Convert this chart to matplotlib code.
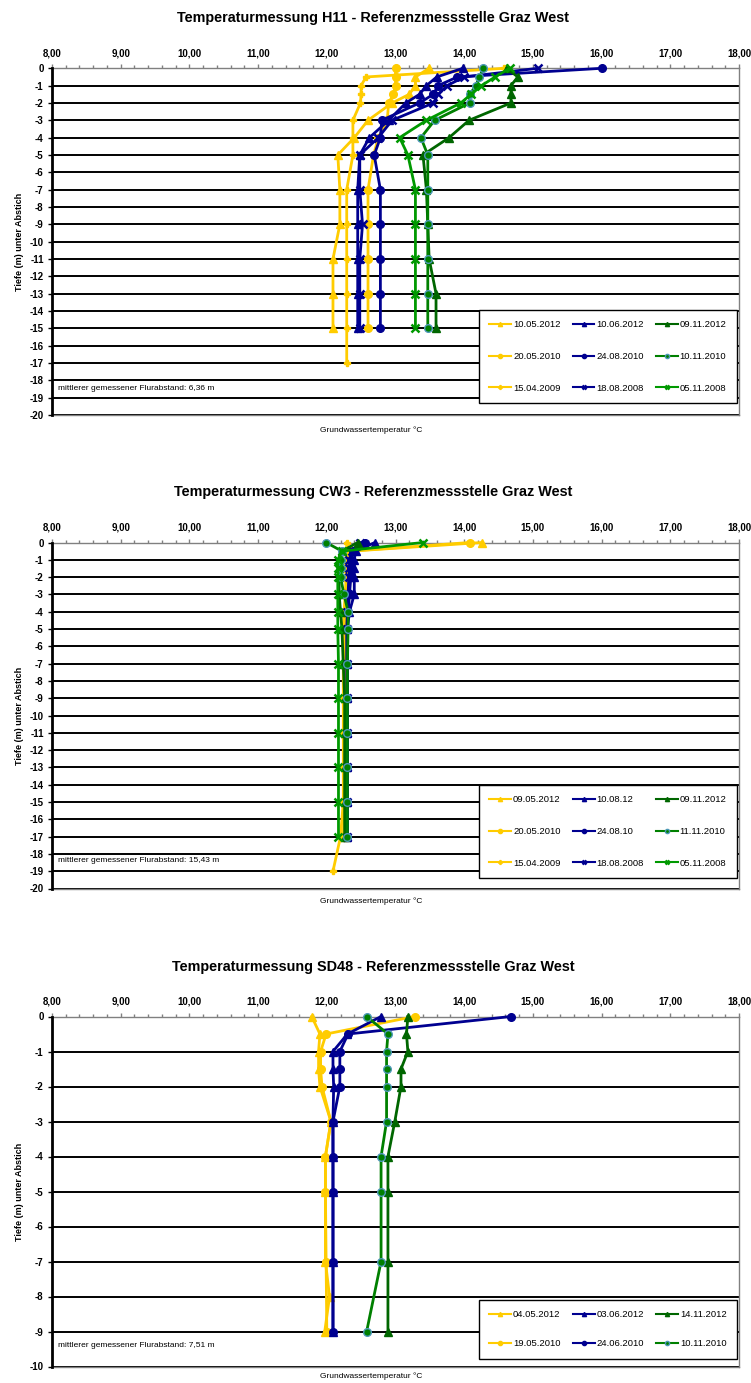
import matplotlib
matplotlib.use("Agg")
import matplotlib.pyplot as plt
from matplotlib.ticker import MultipleLocator, FuncFormatter

plt.rcParams["font.family"] = ["Liberation Sans", "DejaVu Sans"]
plt.rcParams["axes.unicode_minus"] = False

# ---------------- H11 ----------------
h11_depth = [0, -0.5, -1, -1.5, -2, -3, -4, -5, -7, -9, -11, -13, -15]
h11_depth_2009 = [0, -0.5, -1, -1.5, -2, -3, -4, -5, -7, -9, -11, -13, -15, -17]
h11_10052012 = [13.49, 13.29, 13.29, 13.20, 12.95, 12.60, 12.40, 12.16, 12.19, 12.19, 12.09, 12.09, 12.09]
h11_20052010 = [13.00, 13.00, 13.00, 12.97, 12.90, 12.88, 12.75, 12.68, 12.60, 12.60, 12.60, 12.60, 12.60]
h11_15042009 = [14.58, 12.57, 12.50, 12.50, 12.49, 12.38, 12.38, 12.38, 12.29, 12.29, 12.29, 12.29, 12.29, 12.29]
h11_10062012 = [13.98, 13.60, 13.45, 13.35, 13.15, 12.90, 12.62, 12.48, 12.45, 12.45, 12.45, 12.45, 12.45]
h11_24082010 = [16.00, 13.90, 13.62, 13.55, 13.35, 12.80, 12.78, 12.69, 12.78, 12.78, 12.78, 12.78, 12.78]
h11_18082008 = [15.07, 14.00, 13.75, 13.62, 13.55, 12.95, 12.75, 12.48, 12.48, 12.52, 12.48, 12.48, 12.48]
h11_09112012 = [14.62, 14.78, 14.68, 14.68, 14.68, 14.07, 13.78, 13.40, 13.45, 13.47, 13.49, 13.59, 13.59]
h11_10112010 = [14.28, 14.22, 14.17, 14.08, 14.08, 13.57, 13.37, 13.47, 13.47, 13.47, 13.47, 13.47, 13.47]
h11_05112008 = [14.66, 14.45, 14.25, 14.10, 13.95, 13.45, 13.06, 13.18, 13.29, 13.29, 13.29, 13.29, 13.29]

# ---------------- CW3 ----------------
cw3_depth = [0, -0.5, -1, -1.5, -2, -3, -4, -5, -7, -9, -11, -13, -15, -17]
cw3_depth_2009 = [0, -0.5, -1, -1.5, -2, -3, -4, -5, -7, -9, -11, -13, -15, -17, -19]
cw3_09052012 = [14.26, 12.35, 12.30, 12.30, 12.30, 12.29, 12.27, 12.26, 12.26, 12.26, 12.26, 12.26, 12.26, 12.24]
cw3_20052010 = [14.08, 12.32, 12.29, 12.29, 12.29, 12.28, 12.27, 12.27, 12.27, 12.27, 12.27, 12.27, 12.27, 12.27]
cw3_15042009 = [12.29, 12.29, 12.28, 12.28, 12.28, 12.27, 12.25, 12.24, 12.24, 12.24, 12.24, 12.24, 12.24, 12.20, 12.09]
cw3_100812 = [12.70, 12.42, 12.40, 12.40, 12.40, 12.40, 12.33, 12.30, 12.30, 12.30, 12.30, 12.30, 12.30, 12.30]
cw3_240810 = [12.55, 12.38, 12.35, 12.35, 12.35, 12.33, 12.31, 12.30, 12.30, 12.30, 12.30, 12.30, 12.30, 12.30]
cw3_18082008 = [12.48, 12.36, 12.33, 12.33, 12.32, 12.31, 12.30, 12.29, 12.29, 12.29, 12.29, 12.29, 12.29, 12.29]
cw3_09112012 = [12.45, 12.22, 12.18, 12.18, 12.18, 12.18, 12.20, 12.22, 12.24, 12.26, 12.26, 12.26, 12.26, 12.26]
cw3_11112010 = [11.99, 12.22, 12.20, 12.20, 12.20, 12.25, 12.31, 12.31, 12.30, 12.30, 12.30, 12.30, 12.30, 12.30]
cw3_05112008 = [13.40, 12.22, 12.16, 12.16, 12.16, 12.16, 12.16, 12.16, 12.17, 12.17, 12.17, 12.17, 12.17, 12.17]

# ---------------- SD48 ----------------
sd48_depth = [0, -0.5, -1, -1.5, -2, -3, -4, -5, -7, -9]
sd48_depth_2012 = [0, -0.5, -1, -1.5, -2, -3, -4, -5, -7, -8, -9]
sd48_04052012 = [11.78, 11.90, 11.88, 11.88, 11.90, 12.06, 11.98, 11.98, 11.98, 12.04, 11.97]
sd48_19052010 = [13.28, 11.99, 11.91, 11.91, 11.93, 12.06, 11.98, 11.98, 11.99, 12.00]
sd48_03062012 = [12.79, 12.30, 12.09, 12.09, 12.10, 12.09, 12.09, 12.09, 12.09, 12.09]
sd48_24062010 = [14.68, 12.31, 12.19, 12.19, 12.19, 12.09, 12.09, 12.09, 12.09, 12.09]
sd48_14112012 = [13.18, 13.16, 13.18, 13.08, 13.08, 12.99, 12.89, 12.89, 12.89, 12.89]
sd48_10112010 = [12.58, 12.89, 12.87, 12.87, 12.87, 12.87, 12.79, 12.79, 12.79, 12.58]

YELLOW = "#FFCC00"
NAVY = "#000090"
GREEN_DARK = "#006600"
GREEN = "#008000"
GREEN_X = "#009900"

STYLES = {
    "ytri": dict(color=YELLOW, marker="^", ms=5.5),
    "ycirc": dict(color=YELLOW, marker="o", ms=5.5),
    "yplus": dict(color=YELLOW, marker="P", ms=5),
    "btri": dict(color=NAVY, marker="^", ms=5.5),
    "bcirc": dict(color=NAVY, marker="o", ms=5.5),
    "bx": dict(color=NAVY, marker="x", ms=5.5, mew=1.8),
    "gtri": dict(color=GREEN_DARK, marker="^", ms=5.5),
    "gcirc": dict(color=GREEN, marker="o", ms=5.5, mec="#4d98b8", mew=1),
    "gx": dict(color=GREEN_X, marker="x", ms=5.5, mew=1.8),
}

W, H = 751, 1383
fig = plt.figure(figsize=(W / 100, H / 100), dpi=100)
X_LEFT, X_RIGHT = 52, 739


def fx(px):
    return px / W


def fy(py):
    return 1 - py / H


def comma(v, pos):
    return f"{v:.2f}".replace(".", ",")


def draw_panel(top, bottom, ymin, title, title_y, xlabel_y, note, note_y,
               series, legend_top, legend_bottom, ls, bp):
    ax = fig.add_axes([fx(X_LEFT), fy(bottom), (X_RIGHT - X_LEFT) / W, (bottom - top) / H])
    for depth, temp, label, key in series:
        st = dict(STYLES[key])
        ax.plot(temp, depth, lw=2, label=label, clip_on=False, zorder=3, **st)

    ax.set_xlim(8, 18)
    ax.set_ylim(ymin, 0)
    ax.xaxis.tick_top()
    ax.xaxis.set_major_locator(MultipleLocator(1))
    ax.xaxis.set_minor_locator(MultipleLocator(0.2))
    ax.xaxis.set_major_formatter(FuncFormatter(comma))
    ax.yaxis.set_major_locator(MultipleLocator(1))
    ax.yaxis.set_major_formatter(FuncFormatter(lambda v, p: f"{int(round(v))}"))
    ax.tick_params(axis="x", which="major", length=3, width=1, color="#808080",
                   pad=4, labelsize=7)
    ax.tick_params(axis="x", which="minor", length=2, width=1, color="#808080")
    ax.tick_params(axis="y", length=3, width=1, pad=3, labelsize=7)
    for lab in ax.get_xticklabels() + ax.get_yticklabels():
        lab.set_fontweight("bold")

    ax.grid(axis="y", color="black", lw=1.4)
    ax.set_axisbelow(True)
    for side in ("top", "right", "bottom"):
        ax.spines[side].set_color("#808080")
        ax.spines[side].set_linewidth(1)
    ax.spines["left"].set_linewidth(2)
    ax.spines["left"].set_zorder(4)

    fig.text(fx(373), fy(title_y), title, ha="center", va="center",
             fontsize=10.4, fontweight="bold")
    fig.text(fx(371), fy(xlabel_y), "Grundwassertemperatur °C", ha="center",
             va="center", fontsize=6)
    fig.text(fx(20), fy((top + bottom) / 2), "Tiefe (m) unter Abstich", rotation=90,
             ha="center", va="center", fontsize=6.5, fontweight="bold")
    ax.text(0.009, note_y, note, transform=ax.transAxes, fontsize=6, va="center")

    leg = ax.legend(loc="upper left", ncol=3, mode="expand",
                    bbox_to_anchor=(fx(479), fy(legend_bottom), (737 - 479) / W,
                                    (legend_bottom - legend_top) / H),
                    bbox_transform=fig.transFigure, fontsize=6.8, frameon=True,
                    fancybox=False, framealpha=1, edgecolor="black",
                    handlelength=2.3, handletextpad=0.2, columnspacing=0.4,
                    labelspacing=ls, borderpad=bp, markerscale=0.55,
                    borderaxespad=0)
    leg.get_frame().set_linewidth(1)
    for line in leg.get_lines():
        line.set_linewidth(1.5)
    return ax


draw_panel(68.3, 415, -20,
           "Temperaturmessung H11 - Referenzmessstelle Graz West", 18, 430,
           "mittlerer gemessener Flurabstand: 6,36 m", 0.075,
           [(h11_depth, h11_10052012, "10.05.2012", "ytri"),
            (h11_depth, h11_20052010, "20.05.2010", "ycirc"),
            (h11_depth_2009, h11_15042009, "15.04.2009", "yplus"),
            (h11_depth, h11_10062012, "10.06.2012", "btri"),
            (h11_depth, h11_24082010, "24.08.2010", "bcirc"),
            (h11_depth, h11_18082008, "18.08.2008", "bx"),
            (h11_depth, h11_09112012, "09.11.2012", "gtri"),
            (h11_depth, h11_10112010, "10.11.2010", "gcirc"),
            (h11_depth, h11_05112008, "05.11.2008", "gx")],
           310, 407, 2.4, 1.1)

draw_panel(542.5, 888.5, -20,
           "Temperaturmessung CW3 - Referenzmessstelle Graz West", 492, 901,
           "mittlerer gemessener Flurabstand: 15,43 m", 0.082,
           [(cw3_depth, cw3_09052012, "09.05.2012", "ytri"),
            (cw3_depth, cw3_20052010, "20.05.2010", "ycirc"),
            (cw3_depth_2009, cw3_15042009, "15.04.2009", "yplus"),
            (cw3_depth, cw3_100812, "10.08.12", "btri"),
            (cw3_depth, cw3_240810, "24.08.10", "bcirc"),
            (cw3_depth, cw3_18082008, "18.08.2008", "bx"),
            (cw3_depth, cw3_09112012, "09.11.2012", "gtri"),
            (cw3_depth, cw3_11112010, "11.11.2010", "gcirc"),
            (cw3_depth, cw3_05112008, "05.11.2008", "gx")],
           785, 880, 2.4, 1.1)

draw_panel(1016.5, 1366.5, -10,
           "Temperaturmessung SD48 - Referenzmessstelle Graz West", 967, 1376,
           "mittlerer gemessener Flurabstand: 7,51 m", 0.059,
           [(sd48_depth_2012, sd48_04052012, "04.05.2012", "ytri"),
            (sd48_depth, sd48_19052010, "19.05.2010", "ycirc"),
            (sd48_depth, sd48_03062012, "03.06.2012", "btri"),
            (sd48_depth, sd48_24062010, "24.06.2010", "bcirc"),
            (sd48_depth, sd48_14112012, "14.11.2012", "gtri"),
            (sd48_depth, sd48_10112010, "10.11.2010", "gcirc")],
           1300, 1369, 2.1, 1.1)

fig.savefig("out.png", dpi=100)
